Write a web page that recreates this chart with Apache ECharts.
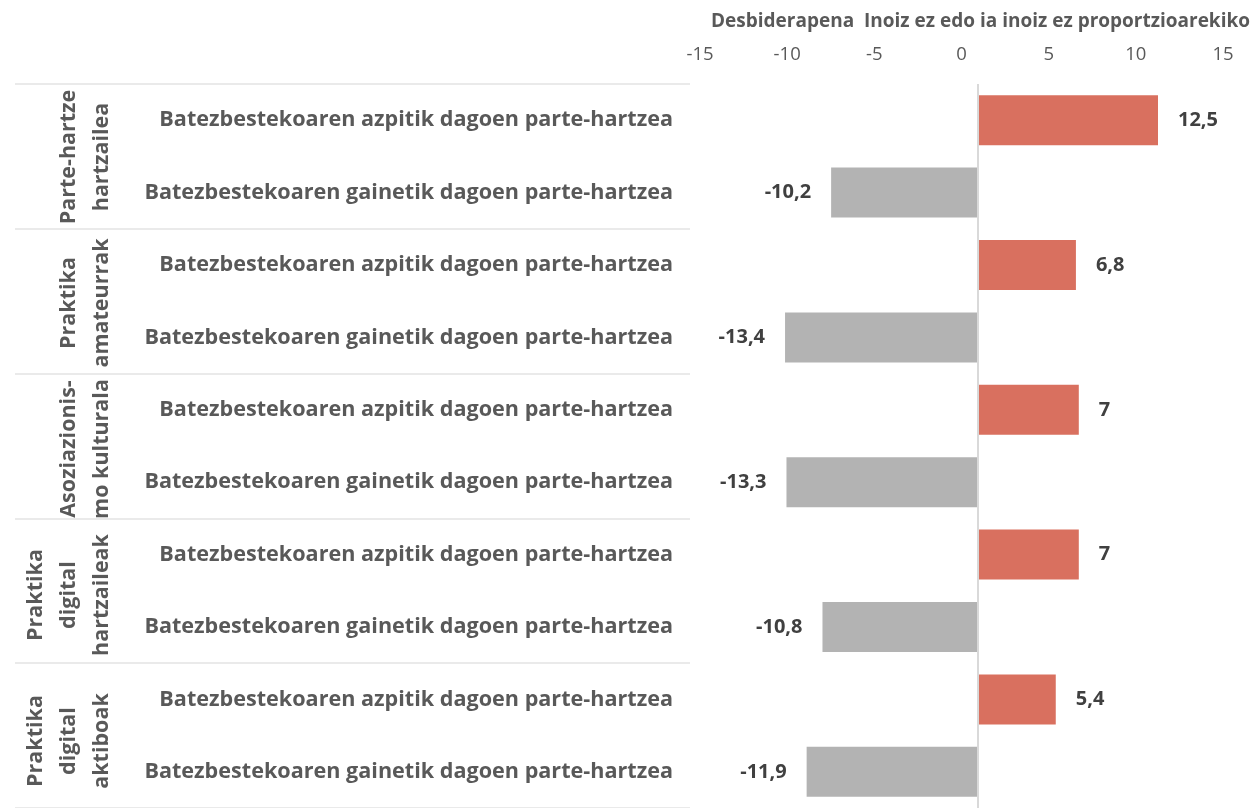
<!DOCTYPE html>
<html>
<head>
<meta charset="utf-8">
<script src="https://cdn.jsdelivr.net/npm/echarts@6/dist/echarts.min.js"></script>
<style>
    html, body { margin: 0; padding: 0; background: #fff; }
    #chart { width: 1253px; height: 808px; }
</style>
</head>
<body>
<div id="chart"></div>
<script>
// taldeak (ezkerreko etiketa bertikalak)
const groups = [
    'Parte-hartze\nhartzailea',
    'Praktika\namateurrak',
    'Asoziazionis-\nmo kulturala',
    'Praktika\ndigital\nhartzaileak',
    'Praktika\ndigital\naktiboak'
];
// kategoriak (goitik behera)
const categories = [
    'Batezbestekoaren azpitik dagoen parte-hartzea',
    'Batezbestekoaren gainetik dagoen parte-hartzea',
    'Batezbestekoaren azpitik dagoen parte-hartzea',
    'Batezbestekoaren gainetik dagoen parte-hartzea',
    'Batezbestekoaren azpitik dagoen parte-hartzea',
    'Batezbestekoaren gainetik dagoen parte-hartzea',
    'Batezbestekoaren azpitik dagoen parte-hartzea',
    'Batezbestekoaren gainetik dagoen parte-hartzea',
    'Batezbestekoaren azpitik dagoen parte-hartzea',
    'Batezbestekoaren gainetik dagoen parte-hartzea'
];
const values = [12.5, -10.2, 6.8, -13.4, 7, -13.3, 7, -10.8, 5.4, -11.9];
const axisTicks = [-15, -10, -5, 0, 5, 10, 15];

const chart = echarts.init(document.getElementById('chart'));

const plotTop = 84;
const plotHeight = 730;
const groupH = plotHeight / groups.length;

const option = {
    animation: false,
    title: {
        text: 'Desbiderapena  Inoiz ez edo ia inoiz ez proportzioarekiko',
        right: 3,
        top: 12,
        padding: 0,
        textStyle: {
            fontFamily: 'Open Sans',
            fontSize: 19,
            fontWeight: 'bold',
            color: '#595959'
        }
    },
    grid: [
        // goiko ardatza (etiketak soilik)
        { left: 700, width: 523, top: 68, height: 1 },
        // barrak
        { left: 762, width: 432, top: plotTop, height: plotHeight },
        // ezkerreko taula (lerro bereizleak)
        { left: 15, width: 675, top: plotTop, height: plotHeight }
    ],
    xAxis: [
        {
            gridIndex: 0,
            type: 'value',
            position: 'top',
            min: axisTicks[0],
            max: axisTicks[axisTicks.length - 1],
            interval: 5,
            axisLine: { show: false },
            axisTick: { show: false },
            splitLine: { show: false },
            axisLabel: {
                margin: 4,
                fontFamily: 'Open Sans',
                fontSize: 18.5,
                color: '#595959'
            }
        },
        { gridIndex: 1, type: 'value', min: -15, max: 15, show: false },
        { gridIndex: 2, type: 'value', show: false }
    ],
    yAxis: [
        { gridIndex: 0, type: 'value', show: false },
        {
            gridIndex: 1,
            type: 'category',
            inverse: true,
            data: categories,
            axisLine: { show: false },
            axisTick: { show: false },
            axisLabel: {
                margin: 89,
                fontFamily: 'Open Sans',
                fontSize: 21.6,
                fontWeight: 'bold',
                color: '#595959'
            }
        },
        {
            gridIndex: 2,
            type: 'category',
            inverse: true,
            data: groups,
            axisLine: { show: false },
            axisTick: { show: false },
            axisLabel: { show: false },
            splitLine: {
                show: true,
                lineStyle: { color: '#e3e3e3', width: 1.5 }
            }
        }
    ],
    graphic: groups.map((g, i) => ({
        type: 'text',
        x: 118,
        y: plotTop + groupH * (i + 0.5),
        rotation: Math.PI / 2,
        style: {
            text: g,
            align: 'center',
            verticalAlign: 'bottom',
            fontFamily: 'Open Sans',
            fontSize: 21.5,
            fontWeight: 'bold',
            lineHeight: 33,
            fill: '#595959'
        }
    })),
    series: [
        {
            type: 'bar',
            xAxisIndex: 1,
            yAxisIndex: 1,
            barCategoryGap: '31%',
            // negatiboen etiketak ezkerrean
            data: values.map((v) => ({
                value: v,
                label: { position: v >= 0 ? 'right' : 'left' }
            })),
            itemStyle: {
                color: (p) => (p.value >= 0 ? '#d9705f' : '#b3b3b3')
            },
            label: {
                show: true,
                distance: 20,
                fontFamily: 'Open Sans',
                fontSize: 20,
                fontWeight: 'bold',
                color: '#404040',
                formatter: (p) => String(p.value).replace('.', ',')
            },
            markLine: {
                silent: true,
                symbol: 'none',
                label: { show: false },
                lineStyle: { color: '#d9d9d9', width: 2, type: 'solid' },
                data: [{ xAxis: 0 }]
            }
        }
    ]
};

chart.setOption(option);
</script>
</body>
</html>
